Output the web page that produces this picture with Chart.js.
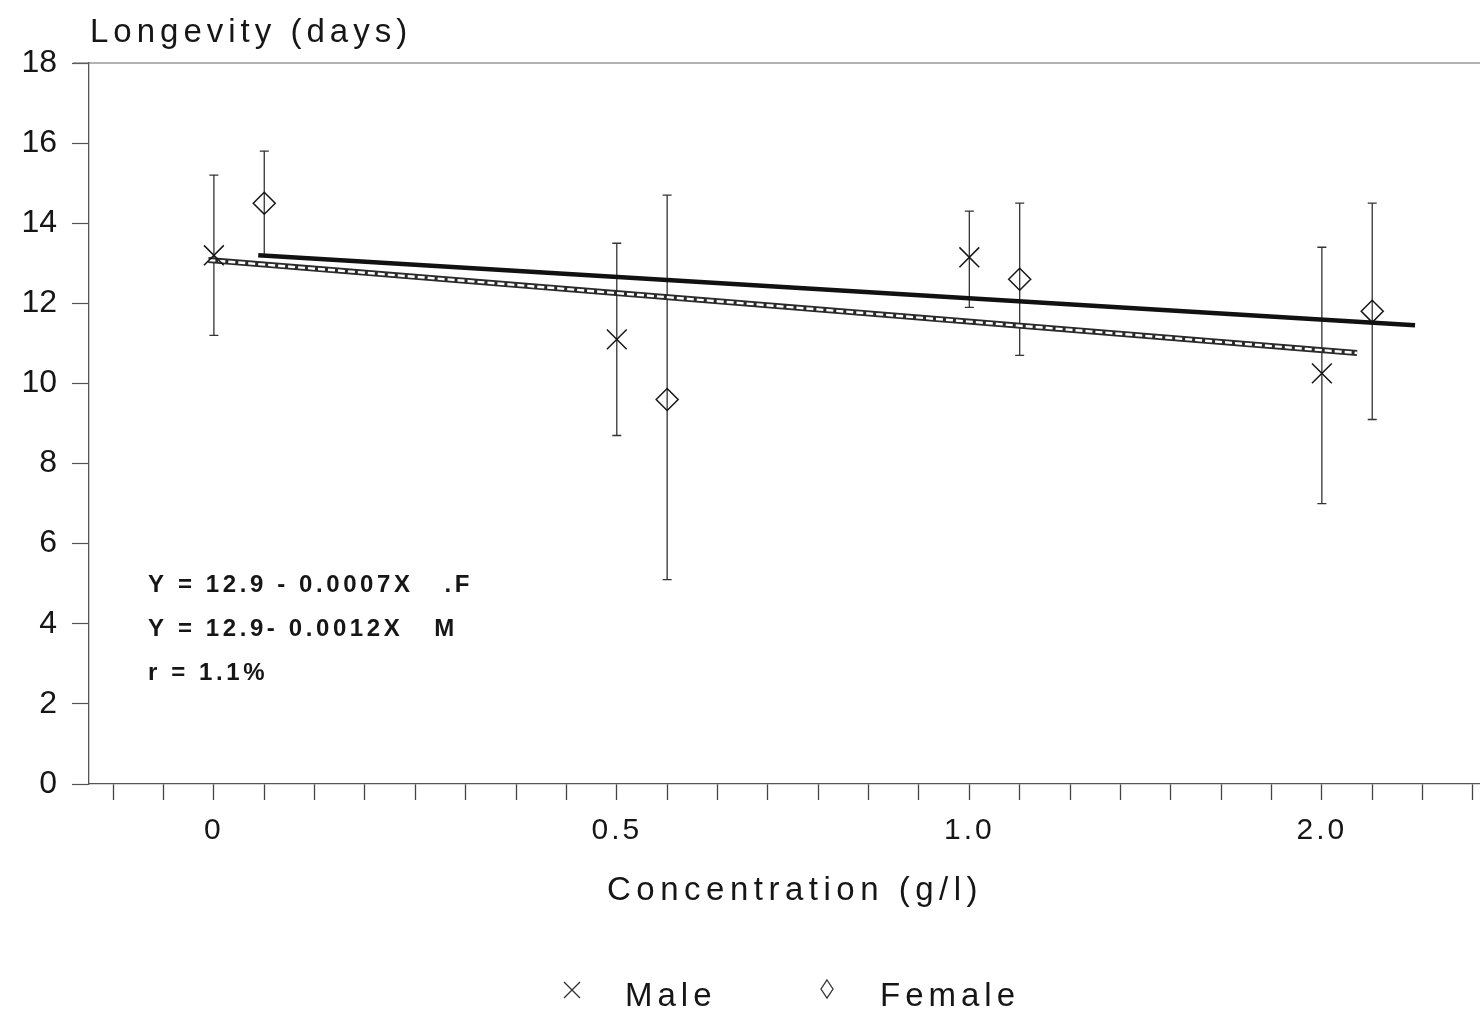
<!DOCTYPE html>
<html>
<head>
<meta charset="utf-8">
<script src="https://cdn.jsdelivr.net/npm/chart.js@4.4.1/dist/chart.umd.min.js"></script>
<style>
  html, body { margin: 0; padding: 0; background: #fff; overflow: hidden; }
  #wrap { width: 1480px; height: 1014px; position: relative; }
</style>
</head>
<body>
<div id="wrap"><canvas id="longevityChart"></canvas></div>
<script>
// concentrations and the tick slot where each one sits on the x axis
const concentrations = ['0', '0.5', '1.0', '2.0'];
const axisSlots = [2, 10, 17, 24];

const maleMean = [13.2, 11.1, 13.15, 10.25];
const maleLow = [11.2, 8.7, 11.9, 7.0];
const maleHigh = [15.2, 13.5, 14.3, 13.4];

const femaleMean = [14.5, 9.6, 12.6, 11.8];
const femaleLow = [13.2, 5.1, 10.7, 9.1];
const femaleHigh = [15.8, 14.7, 14.5, 14.5];

// fitted lines (slot position, days)
const femaleFitX = [2.88, 25.85];
const femaleFitY = [13.2, 11.45];
const maleFitX = [1.89, 24.7];
const maleFitY = [13.08, 10.76];

const yTicks = [0, 2, 4, 6, 8, 10, 12, 14, 16, 18];
const notes = ['Y = 12.9 - 0.0007X   .F', 'Y = 12.9- 0.0012X   M', 'r = 1.1%'];

const FONT = '"Liberation Sans", Arial, sans-serif';
const INK = '#161616';

const malePts = maleMean.map((v, i) => ({ x: axisSlots[i], y: v }));
const femalePts = femaleMean.map((v, i) => ({ x: axisSlots[i] + 1, y: v }));
const femaleFit = femaleFitX.map((x, i) => ({ x: x, y: femaleFitY[i] }));
const maleFit = maleFitX.map((x, i) => ({ x: x, y: maleFitY[i] }));

function spaced(ctx, px) {
    if ('letterSpacing' in ctx) ctx.letterSpacing = px + 'px';
}

const decorPlugin = {
    id: 'decor',
    beforeDraw(chart) {
        spaced(chart.ctx, 3); // x tick labels
    },
    beforeDatasetsDraw(chart) {
        const ctx = chart.ctx;
        const xs = chart.scales.x, ys = chart.scales.y;
        ctx.save();
        ctx.strokeStyle = '#333';
        ctx.lineWidth = 1.3;
        const bars = [
            [malePts, maleLow, maleHigh],
            [femalePts, femaleLow, femaleHigh]
        ];
        bars.forEach(([pts, lo, hi]) => {
            pts.forEach((p, i) => {
                const px = xs.getPixelForValue(p.x);
                const top = ys.getPixelForValue(hi[i]);
                const bot = ys.getPixelForValue(lo[i]);
                ctx.beginPath();
                ctx.moveTo(px, top); ctx.lineTo(px, bot);
                ctx.moveTo(px - 4.5, top); ctx.lineTo(px + 4.5, top);
                ctx.moveTo(px - 4.5, bot); ctx.lineTo(px + 4.5, bot);
                ctx.stroke();
            });
        });
        ctx.restore();
    },
    afterDatasetsDraw(chart) {
        spaced(chart.ctx, 0); // y tick labels are drawn after this (z: 1)
    },
    afterDraw(chart) {
        const ctx = chart.ctx;
        const area = chart.chartArea;
        ctx.save();
        // top frame line
        ctx.strokeStyle = '#666';
        ctx.lineWidth = 1.2;
        ctx.beginPath();
        ctx.moveTo(area.left - 16, area.top);
        ctx.lineTo(area.right, area.top);
        ctx.stroke();

        ctx.fillStyle = INK;
        ctx.textBaseline = 'alphabetic';
        ctx.textAlign = 'left';

        // y axis title
        ctx.font = '33px ' + FONT;
        spaced(ctx, 5);
        ctx.fillText('Longevity (days)', 90, 42);

        // x axis title
        ctx.textAlign = 'center';
        ctx.font = '33px ' + FONT;
        spaced(ctx, 5.5);
        ctx.fillText('Concentration (g/l)', 795, 900);

        // regression notes
        ctx.textAlign = 'left';
        ctx.font = 'bold 24px ' + FONT;
        spaced(ctx, 3.6);
        [592, 636, 680].forEach((y, i) => ctx.fillText(notes[i], 148, y));

        // legend
        const items = [
            { ds: chart.data.datasets[0], mx: 572, tx: 625 },
            { ds: chart.data.datasets[1], mx: 827, tx: 880 }
        ];
        ctx.font = '33px ' + FONT;
        spaced(ctx, 5);
        items.forEach(it => {
            ctx.fillText(it.ds.label, it.tx, 1006);
            ctx.strokeStyle = '#333';
            ctx.lineWidth = 1.3;
            ctx.beginPath();
            if (it.ds.pointStyle === 'crossRot') {
                ctx.moveTo(it.mx - 8, 982); ctx.lineTo(it.mx + 8, 998);
                ctx.moveTo(it.mx + 8, 982); ctx.lineTo(it.mx - 8, 998);
            } else {
                ctx.moveTo(it.mx, 980); ctx.lineTo(it.mx + 6, 989);
                ctx.lineTo(it.mx, 998); ctx.lineTo(it.mx - 6, 989);
                ctx.closePath();
            }
            ctx.stroke();
        });
        ctx.restore();
    }
};

new Chart(document.getElementById('longevityChart').getContext('2d'), {
    type: 'scatter',
    data: {
        datasets: [
            {
                label: 'Male',
                data: malePts,
                pointStyle: 'crossRot',
                pointRadius: 14,
                pointBorderWidth: 1.5,
                borderColor: INK,
                backgroundColor: 'transparent',
                order: 1
            },
            {
                label: 'Female',
                data: femalePts,
                pointStyle: 'rectRot',
                pointRadius: 11,
                pointBorderWidth: 1.5,
                borderColor: INK,
                backgroundColor: 'transparent',
                order: 1
            },
            {
                label: 'F fit',
                type: 'line',
                data: femaleFit,
                borderColor: '#111',
                borderWidth: 4.5,
                pointRadius: 0,
                order: 3
            },
            {
                label: 'M fit',
                type: 'line',
                data: maleFit,
                borderColor: '#2a2a2a',
                borderWidth: 6,
                pointRadius: 0,
                order: 3
            },
            {
                label: 'M fit inner',
                type: 'line',
                data: maleFit,
                borderColor: '#ffffff',
                borderWidth: 2.4,
                borderDash: [7, 3],
                pointRadius: 0,
                order: 2
            }
        ]
    },
    options: {
        responsive: true,
        maintainAspectRatio: false,
        animation: false,
        layout: {
            autoPadding: false,
            padding: { top: 63, right: 0, bottom: 80, left: 0 }
        },
        plugins: {
            legend: { display: false },
            tooltip: { enabled: false }
        },
        scales: {
            x: {
                type: 'linear',
                min: -0.48,
                max: 27.14,
                afterBuildTicks: (scale) => {
                    const t = [];
                    for (let i = 0; i <= 27; i++) t.push({ value: i });
                    scale.ticks = t;
                },
                afterFit: (scale) => {
                    scale.height = 150;
                    scale.paddingLeft = 0;
                    scale.paddingRight = 0;
                },
                ticks: {
                    autoSkip: false,
                    maxRotation: 0,
                    padding: 13,
                    color: INK,
                    font: { size: 30, family: FONT },
                    callback: (v) => {
                        const k = axisSlots.indexOf(v);
                        return k >= 0 ? concentrations[k] : '';
                    }
                },
                grid: {
                    drawOnChartArea: false,
                    drawTicks: true,
                    tickLength: 16,
                    tickWidth: 1.3,
                    tickColor: '#444'
                },
                border: { display: true, color: '#555', width: 1.3 }
            },
            y: {
                min: 0,
                max: 18,
                afterBuildTicks: (scale) => {
                    scale.ticks = yTicks.map(v => ({ value: v }));
                },
                afterFit: (scale) => {
                    scale.width = 89;
                    scale.paddingTop = 0;
                    scale.paddingBottom = 0;
                },
                ticks: {
                    z: 1,
                    padding: 15,
                    color: INK,
                    font: { size: 32, family: FONT }
                },
                grid: {
                    drawOnChartArea: false,
                    drawTicks: true,
                    tickLength: 17,
                    tickWidth: 1.2,
                    tickColor: '#555'
                },
                border: { display: true, color: '#555', width: 1.3 }
            }
        }
    },
    plugins: [decorPlugin]
});
</script>
</body>
</html>
